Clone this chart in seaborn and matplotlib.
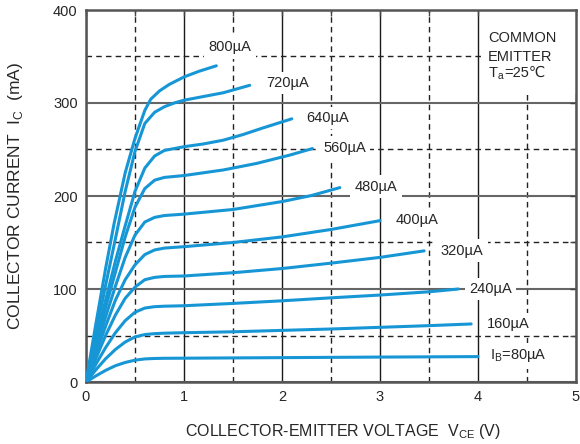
import numpy as np
import pandas as pd
import matplotlib
matplotlib.use("Agg")
import matplotlib.pyplot as plt
from matplotlib.patches import Rectangle
import seaborn as sns

# ---- data ----
v80 = [0, .1, .2, .3, .4, .5, .6, .7, .8, 1.0, 2.0, 3.0, 4.0]
i80 = [0, 6.5, 12.5, 17.5, 21, 23.5, 24.8, 25.3, 25.5, 25.6, 26.2, 26.8, 27.3]
v160 = [0, .1, .2, .3, .4, .5, .6, .7, .8, 1.0, 1.5, 2.0, 2.5, 3.0, 3.5, 3.93]
i160 = [0, 13, 25, 35, 43, 48.5, 51, 52, 52.5, 53, 54, 55.5, 57, 58.8, 60.6, 62.4]
v240 = [0, .1, .2, .3, .4, .5, .6, .7, .8, 1.0, 1.5, 2.0, 2.5, 3.0, 3.5, 3.8]
i240 = [0, 19, 37, 53, 66, 75, 79.5, 81, 81.5, 82, 84.5, 87.3, 90.5, 93.5, 97, 100]
v320 = [0, .1, .2, .3, .4, .5, .6, .7, .8, 1.0, 1.5, 2.0, 2.5, 3.0, 3.45]
i320 = [0, 25, 50, 72, 90, 102, 110, 112.5, 113.5, 114, 117.5, 122, 127.8, 134, 141]
v400 = [0, .1, .2, .3, .4, .5, .6, .7, .8, 1.0, 1.5, 2.0, 2.5, 3.0]
i400 = [0, 30, 60, 88, 110, 126, 137, 142, 144, 145.5, 150, 156, 164, 173.5]
v480 = [0, .1, .2, .3, .4, .5, .6, .7, .8, 1.0, 1.5, 2.0, 2.3, 2.59]
i480 = [0, 35, 70, 103, 134, 158, 172, 177, 179, 180.5, 185.5, 194, 200.5, 209]
v560 = [0, .1, .2, .3, .4, .5, .6, .7, .8, 1.0, 1.4, 1.74, 2.08, 2.31]
i560 = [0, 40, 80, 118, 156, 188, 208, 217, 220, 222, 228, 235, 244, 251]
v640 = [0, .1, .2, .3, .4, .5, .6, .7, .8, 1.0, 1.2, 1.4, 1.6, 1.8, 2.1]
i640 = [0, 44, 88, 130, 168, 205, 230, 243, 249, 253, 256, 260, 266, 273, 283]
v720 = [0, .1, .2, .3, .4, .5, .6, .7, .8, .9, 1.0, 1.2, 1.4, 1.67]
i720 = [0, 52, 104, 154, 205, 248, 278, 290, 296, 300, 303, 307, 311, 319]
v800 = [0, .1, .2, .286, .4, .5, .6, .66, .75, .85, 1.0, 1.15, 1.33]
i800 = [0, 62, 122, 170, 225, 262, 292, 304, 313, 320, 328, 334, 340]

series_names = ["80", "160", "240", "320", "400", "480", "560", "640", "720", "800"]
volts = [v80, v160, v240, v320, v400, v480, v560, v640, v720, v800]
currents = [i80, i160, i240, i320, i400, i480, i560, i640, i720, i800]

label_texts = ["I$_\\mathregular{B}$=80µA", "160µA", "240µA", "320µA", "400µA",
               "480µA", "560µA", "640µA", "720µA", "800µA"]
label_x = [4.12, 4.09, 3.91, 3.62, 3.16, 2.74, 2.42, 2.25, 1.84, 1.25]
label_y = [28, 62.4, 100, 141, 174, 210, 252, 284, 321.5, 360]

xticks = [0, 1, 2, 3, 4, 5]
yticks = [0, 100, 200, 300, 400]

frames = []
for name, v, i in zip(series_names, volts, currents):
    frames.append(pd.DataFrame({"V": v, "I": i, "IB": name}))
df = pd.concat(frames, ignore_index=True)

# ---- figure ----
sns.set_style("white")
plt.rcParams["font.family"] = ["Liberation Sans", "DejaVu Sans"]
plt.rcParams["mathtext.fontset"] = "custom"
plt.rcParams["mathtext.rm"] = "Liberation Sans"

fig = plt.figure(figsize=(5.8, 4.44), dpi=100)
ax = fig.add_axes([86 / 580, 62 / 444, 490 / 580, 372 / 444])

blue = "#1796d6"
sns.lineplot(data=df, x="V", y="I", hue="IB", units="IB", estimator=None, sort=False,
             palette=[blue] * len(series_names), legend=False, linewidth=2.2,
             ax=ax, zorder=5)

ax.set_xlim(0, 5)
ax.set_ylim(0, 400)
ax.set_xticks(xticks)
ax.set_yticks(yticks)
ax.set_xticks(np.arange(0.5, 5, 1.0), minor=True)
ax.set_yticks(np.arange(50, 400, 100), minor=True)
ax.tick_params(which="both", direction="in", length=4, width=1, color="#444",
               top=True, right=True, labelsize=10.5, pad=6)
ax.set_axisbelow(True)
ax.xaxis.grid(True, which="major", color="#1a1a1a", linewidth=1.0, linestyle="-")
ax.yaxis.grid(True, which="major", color="#666666", linewidth=1.5, linestyle="-")
ax.grid(which="minor", color="#222222", linewidth=1.0, linestyle=(0, (4, 3)))
for s in ax.spines.values():
    s.set_color("#555555")
    s.set_linewidth(1.8)

ax.set_xlabel("COLLECTOR-EMITTER VOLTAGE  V$_\\mathregular{CE}$ (V)", fontsize=11.5)
ax.xaxis.set_label_coords(0.525, -0.108)
ax.set_ylabel("COLLECTOR CURRENT  I$_\\mathregular{C}$  (mA)", fontsize=12.5)
ax.yaxis.set_label_coords(-0.125, 0.5)

for t, x, y in zip(label_texts, label_x, label_y):
    ax.text(x, y, t, fontsize=10.5, ha="left", va="center", zorder=3,
            bbox=dict(boxstyle="square,pad=0.3", fc="white", ec="none"))

# top-right info box
ax.add_patch(Rectangle((4.03, 310), 0.97, 90, facecolor="white", edgecolor="none", zorder=1))
ax.text(4.1, 370, "COMMON", fontsize=10.5, ha="left", va="center", zorder=3)
ax.text(4.1, 349, "EMITTER", fontsize=10.5, ha="left", va="center", zorder=3)
t1 = ax.text(4.1, 328, "T$_\\mathregular{a}$", fontsize=10.5, ha="left", va="baseline", zorder=3)
fig.canvas.draw()
bb = t1.get_window_extent(renderer=fig.canvas.get_renderer())
x_end = ax.transData.inverted().transform((bb.x1, bb.y0))[0]
ax.text(x_end, 328, "=25℃", fontsize=10.5, ha="left", va="baseline", zorder=3,
        family=["Liberation Sans", "DejaVu Sans"])

fig.savefig("out.png", dpi=100)
